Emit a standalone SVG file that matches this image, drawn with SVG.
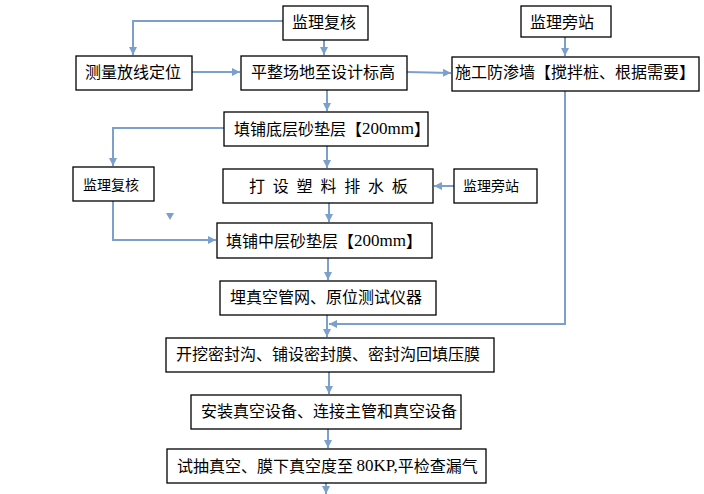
<svg xmlns="http://www.w3.org/2000/svg" width="704" height="494" viewBox="0 0 704 494">
<style>
.box{fill:#fff;stroke:#000;stroke-width:1.3}
.t{font-family:"Noto Sans CJK SC","Noto Sans",sans-serif;font-size:16px;fill:#000;dominant-baseline:central}
.s{font-size:14px}
.r{font-family:"Liberation Serif","Noto Sans CJK SC",serif}
.c{fill:none;stroke:#7BA0CB;stroke-width:2}
</style>
<defs>
<marker id="ah" markerUnits="userSpaceOnUse" markerWidth="10" markerHeight="10" viewBox="0 0 10 10" refX="9" refY="5" orient="auto">
<path d="M1,1 L9,5 L1,9 Z" fill="#7BA0CB"/>
</marker>
</defs>
<rect width="704" height="494" fill="#fff"/>
<g id="connectors">
<path class="c" d="M283,21 H133 V55" marker-end="url(#ah)"/>
<path class="c" d="M324,40 V55" marker-end="url(#ah)"/>
<path class="c" d="M192,72 H240" marker-end="url(#ah)"/>
<path class="c" d="M407,72 L451,73" marker-end="url(#ah)"/>
<path class="c" d="M565,37 V56" marker-end="url(#ah)"/>
<path class="c" d="M327,90 V111" marker-end="url(#ah)"/>
<path class="c" d="M224,128 H113 V166" marker-end="url(#ah)"/>
<path class="c" d="M327,146 V168" marker-end="url(#ah)"/>
<path class="c" d="M454,186 H434" marker-end="url(#ah)"/>
<path class="c" d="M329,203 V222" marker-end="url(#ah)"/>
<path class="c" d="M113,201 V240 H216" marker-end="url(#ah)"/>
<path d="M166,213 L174,213 L170,220 Z" fill="#7BA0CB"/>
<path class="c" d="M328,258 V280" marker-end="url(#ah)"/>
<path class="c" d="M565,91 V324 H329" marker-end="url(#ah)"/>
<path class="c" d="M327,315 V337" marker-end="url(#ah)"/>
<path class="c" d="M329,372 V394" marker-end="url(#ah)"/>
<path class="c" d="M328,429 V448" marker-end="url(#ah)"/>
<path class="c" d="M326,483 V494" marker-end="url(#ah)"/>
</g>
<g id="n1"><rect class="box" x="283" y="6" width="85" height="34"/><text class="t" x="324" y="21" text-anchor="middle">监理复核</text></g>
<g id="n2"><rect class="box" x="76" y="56" width="116" height="34"/><text class="t" x="133" y="71" text-anchor="middle">测量放线定位</text></g>
<g id="n3"><rect class="box" x="241" y="56" width="166" height="34"/><text class="t" x="323" y="71" text-anchor="middle">平整场地至设计标高</text></g>
<g id="n4"><rect class="box" x="521" y="6" width="90" height="31"/><text class="t" x="562" y="21" text-anchor="middle">监理旁站</text></g>
<g id="n5"><rect class="box" x="452" y="57" width="247" height="34"/><text class="t" x="575" y="71" text-anchor="middle">施工防渗墙【搅拌桩、根据需要】</text></g>
<g id="n6"><rect class="box" x="224" y="112" width="204" height="34"/><text class="t" x="234" y="127.5">填铺底层砂垫层【<tspan class="r" font-size="17">200mm</tspan>】</text></g>
<g id="n7"><rect class="box" x="73" y="167" width="81" height="34"/><text class="t s" x="83" y="183.5">监理复核</text></g>
<g id="n8"><rect class="box" x="223" y="169" width="210" height="34"/><text class="t" x="249" y="184.5" letter-spacing="7.8">打设塑料排水板</text></g>
<g id="n9"><rect class="box" x="454" y="169" width="83" height="34"/><text class="t s" x="463" y="185">监理旁站</text></g>
<g id="n10"><rect class="box" x="217" y="223" width="215" height="35"/><text class="t" x="226" y="240">填铺中层砂垫层【<tspan class="r" font-size="17">200mm</tspan>】</text></g>
<g id="n11"><rect class="box" x="220" y="281" width="216" height="34"/><text class="t" x="230" y="296">埋真空管网、原位测试仪器</text></g>
<g id="n12"><rect class="box" x="166" y="338" width="328" height="34"/><text class="t" x="176" y="353">开挖密封沟、铺设密封膜、密封沟回填压膜</text></g>
<g id="n13"><rect class="box" x="191" y="395" width="270" height="34"/><text class="t" x="201" y="410">安装真空设备、连接主管和真空设备</text></g>
<g id="n14"><rect class="box" x="167" y="449" width="319" height="34"/><text class="t" x="177" y="465">试抽真空、膜下真空度至 <tspan class="r" font-size="17">80KP,</tspan>平检查漏气</text></g>
</svg>
